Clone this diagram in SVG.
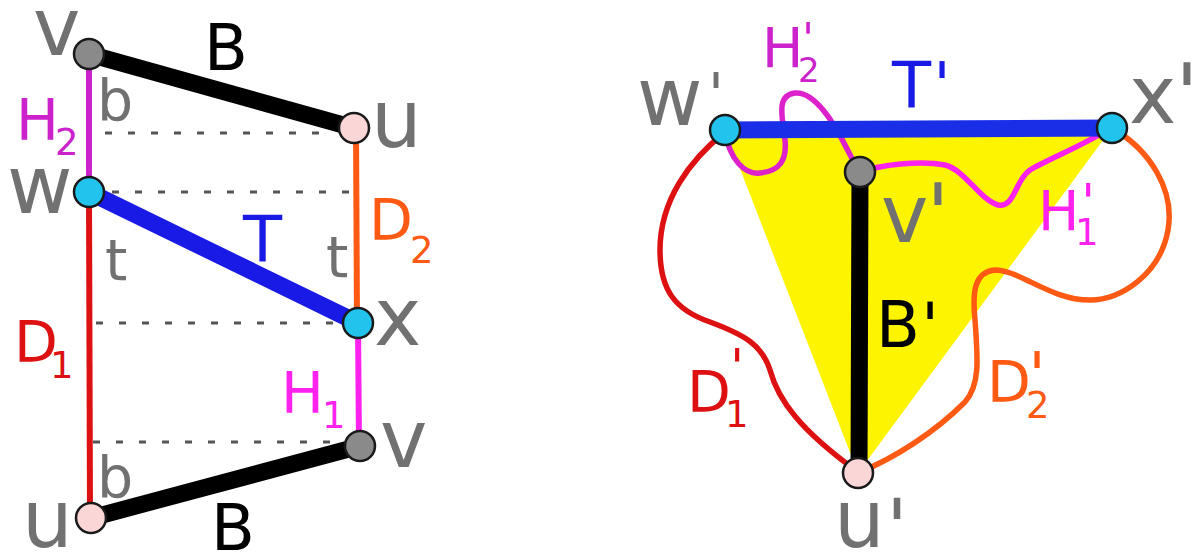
<svg xmlns="http://www.w3.org/2000/svg" width="1192" height="554" viewBox="0 0 1192 554">
<style>
text{font-family:"DejaVu Sans","Liberation Sans",sans-serif}
.g{fill:#717171}
.vx{font-size:80px}
.cap{font-size:64px}
.lab{font-size:57px}
.sub{font-size:37px}
.dot{stroke:#555;stroke-width:3;stroke-dasharray:7 16;fill:none}
.thin{stroke-width:6;fill:none}
.curve{stroke-width:5.5;fill:none;stroke-linecap:round}
.thick{stroke-width:17;stroke-linecap:round;fill:none}
.nd{stroke:#1a1a1a;stroke-width:2.5}
.cy{fill:#22c4ee}.gr{fill:#8a8a8a}.pk{fill:#fad6d6}
.mag1{fill:#cc22cc}.mag2{fill:#ff22ee}.red{fill:#dd1111}.org{fill:#ff5a14}.blu{fill:#1a1ae6}.blk{fill:#000}
</style>
<g id="connectors">
<line class="dot" x1="105" y1="133" x2="330" y2="133"/>
<line class="dot" x1="112" y1="192" x2="350" y2="192"/>
<line class="dot" x1="96" y1="323" x2="335" y2="323"/>
<line class="dot" x1="93" y1="442" x2="333" y2="442"/>
<line class="thin" x1="89" y1="54" x2="89" y2="192" stroke="#cc22cc"/>
<line class="thin" x1="89" y1="192" x2="90" y2="518" stroke="#dd1111"/>
<line class="thin" x1="356" y1="128" x2="357" y2="323" stroke="#ff5a14"/>
<line class="thin" x1="358" y1="323" x2="359" y2="446" stroke="#ff22ee"/>
<line class="thick" x1="89" y1="54" x2="354" y2="128" stroke="#000"/>
<line class="thick" x1="91" y1="518" x2="360" y2="446" stroke="#000"/>
<line class="thick" x1="89" y1="192" x2="358" y2="323" stroke="#1a1ae6"/>
<polygon points="725,130 1112,128 858,473" fill="#fcf400"/>
<path class="curve" stroke="#dd22cc" d="M725,132 C730,160 745,175 760,173 C780,171 787,160 785,140 C783,120 775,95 795,93 C815,91 835,125 845,145 L858,170"/>
<path class="curve" stroke="#ff22ee" d="M860,172 C880,165 920,160 945,165 C965,170 980,200 998,205 C1015,208 1015,180 1030,170 C1050,158 1085,145 1110,128"/>
<path class="curve" stroke="#dd1111" d="M725,132 C690,160 660,200 660,250 C660,290 675,310 710,322 C745,335 762,345 770,370 C778,400 800,430 858,472"/>
<path class="curve" stroke="#ff5a14" d="M1112,128 C1150,150 1175,190 1168,230 C1160,275 1120,300 1090,300 C1050,300 1020,270 995,270 C975,272 972,290 975,320 C978,360 980,385 965,402 C935,432 895,458 858,473"/>
<line class="thick" x1="725" y1="130" x2="1112" y2="128" stroke="#1a2ee8" stroke-linecap="butt"/>
<line class="thick" x1="860" y1="172" x2="859" y2="473" stroke="#000" stroke-linecap="butt"/>
</g>
<g id="node-v-top"><circle class="nd gr" cx="89" cy="54" r="15"/><text class="g vx" x="33" y="55">v</text></g>
<g id="node-u-top"><circle class="nd pk" cx="354" cy="128" r="15"/><text class="g vx" x="371" y="147">u</text></g>
<g id="node-w"><circle class="nd cy" cx="89" cy="192" r="15"/><text class="g vx" x="7" y="213">w</text></g>
<g id="node-x"><circle class="nd cy" cx="358" cy="323" r="15"/><text class="g vx" x="374" y="345">x</text></g>
<g id="node-v-bottom"><circle class="nd gr" cx="360" cy="446" r="15"/><text class="g vx" x="380" y="467">v</text></g>
<g id="node-u-bottom"><circle class="nd pk" cx="91" cy="518" r="15"/><text class="g vx" x="22" y="547">u</text></g>
<g id="labels-left">
<text class="blk cap" x="204" y="70">B</text>
<text class="g lab" x="97" y="120">b</text>
<text class="mag1 lab" x="16" y="140">H</text><text class="mag1 sub" x="55" y="155">2</text>
<text class="blu cap" x="243" y="262">T</text>
<text class="org lab" x="369" y="240">D</text><text class="org sub" x="410" y="263">2</text>
<text class="g lab" x="105" y="280">t</text>
<text class="g lab" x="326" y="277">t</text>
<text class="red lab" x="14" y="362">D</text><text class="red sub" x="50" y="378">1</text>
<text class="mag2 lab" x="281" y="413">H</text><text class="mag2 sub" x="322" y="428">1</text>
<text class="g lab" x="97" y="497">b</text>
<text class="blk cap" x="211" y="550">B</text>
</g>
<g id="node-w-prime"><circle class="nd cy" cx="725" cy="130" r="15"/><text class="g vx" x="637" y="125">w</text><text class="g" font-size="58" x="716" y="115" text-anchor="middle">'</text></g>
<g id="node-x-prime"><circle class="nd cy" cx="1112" cy="128" r="15"/><text class="g vx" x="1129" y="123">x</text><text class="g" font-size="83" x="1187" y="123" text-anchor="middle">'</text></g>
<g id="node-v-prime"><circle class="nd gr" cx="860" cy="172" r="15"/><text class="g vx" x="881" y="242">v</text><text class="g" font-size="83" x="938" y="243" text-anchor="middle">'</text></g>
<g id="node-u-prime"><circle class="nd pk" cx="858" cy="473" r="15"/><text class="g vx" x="834" y="547">u</text><text class="g" font-size="78" x="897" y="555" text-anchor="middle">'</text></g>
<g id="labels-right">
<text class="mag1" font-size="55" x="762" y="67">H</text><text class="mag1" font-size="34" x="798" y="82">2</text><text class="mag1" font-size="42" x="808" y="53" text-anchor="middle">'</text>
<text class="blu cap" x="892" y="108">T</text><text class="blu" font-size="62" x="942" y="107" text-anchor="middle">'</text>
<text class="mag2" font-size="55" x="1038" y="230">H</text><text class="mag2 sub" x="1075" y="245">1</text><text class="mag2" font-size="50" x="1088" y="219" text-anchor="middle">'</text>
<text class="blk cap" x="876" y="347">B</text><text class="blk" font-size="64" x="930" y="348" text-anchor="middle">'</text>
<text class="red lab" x="687" y="412">D</text><text class="red sub" x="725" y="427">1</text><text class="red" font-size="50" x="737" y="384" text-anchor="middle">'</text>
<text class="org lab" x="987" y="402">D</text><text class="org sub" x="1026" y="418">2</text><text class="org" font-size="62" x="1037" y="397" text-anchor="middle">'</text>
</g>
</svg>
